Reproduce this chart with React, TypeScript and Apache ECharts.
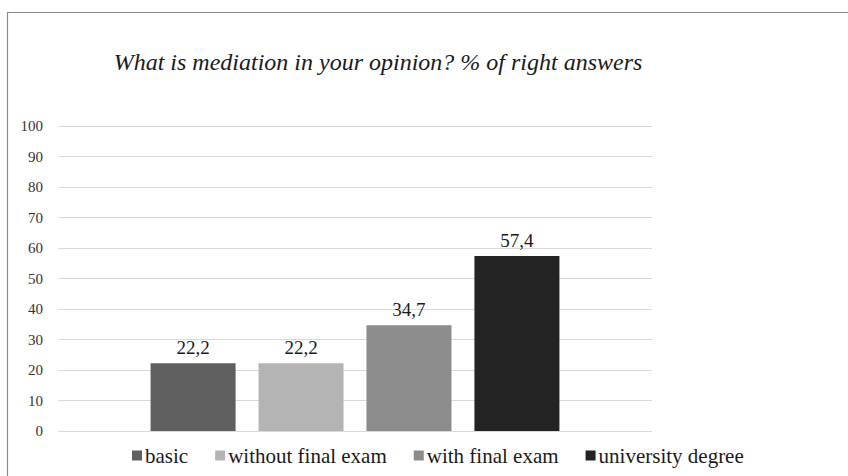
import React, { useEffect, useRef } from "react";
import * as echarts from "echarts";

const categories = [""];
const seriesNames = ["basic", "without final exam", "with final exam", "university degree"];
const seriesValues = [22.2, 22.2, 34.7, 57.4];
const seriesColors = ["#5f5f5f", "#b4b4b4", "#8c8c8c", "#232323"];
const titleText = "What is mediation in your opinion? % of right answers";

export default function App() {
  const ref = useRef<HTMLDivElement>(null);
  useEffect(() => {
    document.body.style.margin = "0";
    const chart = echarts.init(ref.current!, null, { renderer: "svg" });
    const font = "Liberation Serif";
    chart.setOption({
      animation: false,
      backgroundColor: "#ffffff",
      textStyle: { fontFamily: font },
      title: {
        text: titleText,
        left: 373,
        top: 45,
        textAlign: "center",
        textStyle: { fontFamily: font, fontStyle: "italic", fontWeight: "normal", fontSize: 24, color: "#1a1a1a" },
      },
      graphic: [
        {
          type: "rect",
          shape: { x: 7.5, y: 12.5, width: 900, height: 600 },
          style: { fill: "none", stroke: "#8a8a8a", lineWidth: 1.2 },
          silent: true,
        },
      ],
      legend: {
        left: 127,
        top: 440,
        itemWidth: 10,
        itemHeight: 10,
        itemGap: 27,
        icon: "rect",
        textStyle: { fontFamily: font, fontSize: 21, color: "#1a1a1a", padding: [0, 0, 0, -2] },
        data: seriesNames,
      },
      grid: { left: 58, right: 196, top: 126, bottom: 45 },
      xAxis: {
        type: "category",
        data: categories,
        axisLine: { show: false },
        axisTick: { show: false },
        axisLabel: { show: false },
      },
      yAxis: {
        type: "value",
        min: 0,
        max: 100,
        interval: 10,
        axisLine: { show: false },
        axisTick: { show: false },
        axisLabel: { fontFamily: font, fontSize: 15, color: "#333333", margin: 15 },
        splitLine: { lineStyle: { color: "#d9d9d9", width: 1.2 } },
      },
      series: seriesNames.map((name, i) => ({
        name,
        type: "bar",
        data: [seriesValues[i]],
        barWidth: 85,
        barGap: "27%",
        itemStyle: { color: seriesColors[i] },
        label: {
          show: true,
          position: "top",
          distance: 6,
          fontFamily: font,
          fontSize: 19,
          color: "#1a1a1a",
          formatter: (p: any) => p.value.toFixed(1).replace(".", ","),
        },
      })),
    });
    return () => chart.dispose();
  }, []);
  return <div ref={ref} style={{ width: 848, height: 476 }} />;
}
